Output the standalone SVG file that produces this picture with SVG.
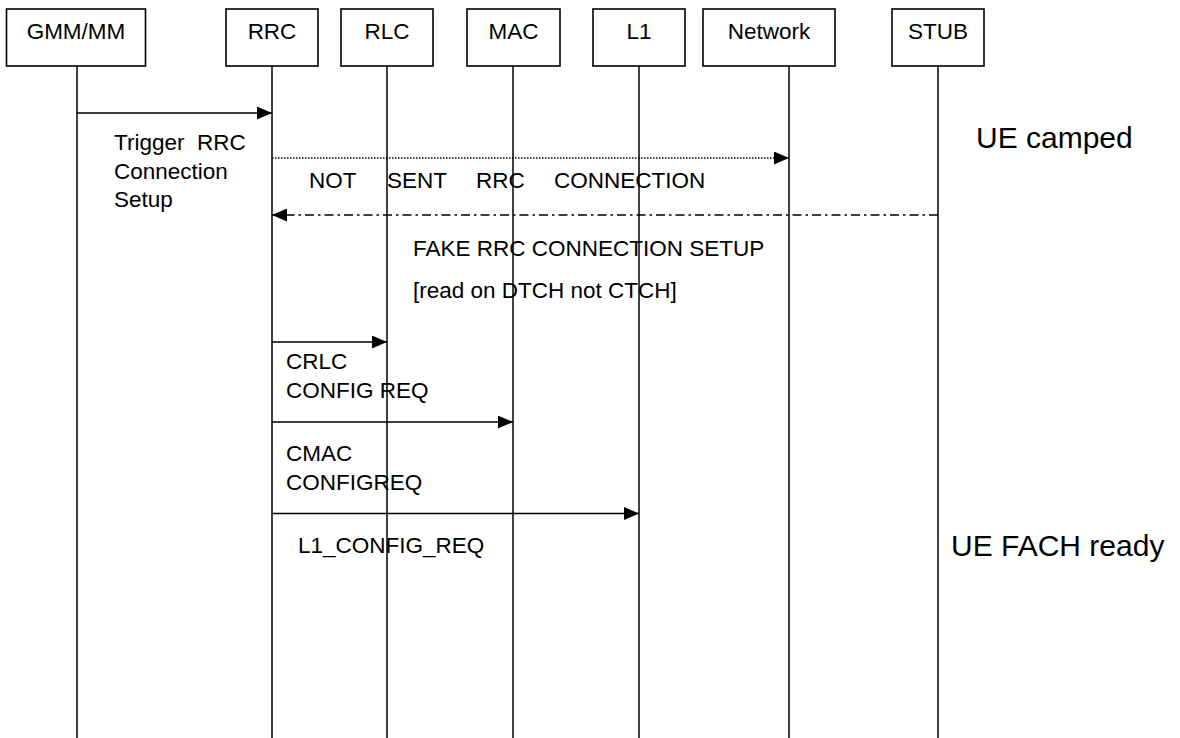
<svg xmlns="http://www.w3.org/2000/svg" width="1180" height="738" viewBox="0 0 1180 738">
  <style>
    .box { fill: #ffffff; stroke: #000000; stroke-width: 1.6; }
    .life { stroke: #000000; stroke-width: 1.5; fill: none; }
    .msg { stroke: #000000; stroke-width: 1.5; fill: none; }
    .dotted { stroke-dasharray: 1.5 1.5; stroke-width: 1.3; }
    .dashdot { stroke-dasharray: 9 4 2.5 4; stroke-width: 1.4; }
    text { font-family: "Liberation Sans", Arial, sans-serif; font-size: 22.5px; fill: #000000; }
    .name { text-anchor: middle; }
    .state { font-size: 30px; }
  </style>
  <defs>
    <marker id="head" markerUnits="userSpaceOnUse" markerWidth="15" markerHeight="13" refX="15" refY="6.5" orient="auto">
      <path d="M0,0 L15,6.5 L0,13 Z" fill="#000000"/>
    </marker>
  </defs>

  <rect width="1180" height="738" fill="#ffffff"/>

  <!-- lifelines with their header boxes -->
  <g id="gmm">
    <line class="life" x1="77" y1="66" x2="77" y2="738"/>
    <rect class="box" x="6.5" y="9" width="139" height="57"/>
    <text class="name" x="76" y="38.5">GMM/MM</text>
  </g>
  <g id="rrc">
    <line class="life" x1="272" y1="66" x2="272" y2="738"/>
    <rect class="box" x="226" y="9" width="92" height="57"/>
    <text class="name" x="272" y="38.5">RRC</text>
  </g>
  <g id="rlc">
    <line class="life" x1="387" y1="66" x2="387" y2="738"/>
    <rect class="box" x="341" y="9" width="92" height="57"/>
    <text class="name" x="387" y="38.5">RLC</text>
  </g>
  <g id="mac">
    <line class="life" x1="513" y1="66" x2="513" y2="738"/>
    <rect class="box" x="467" y="9" width="93" height="57"/>
    <text class="name" x="513.5" y="38.5">MAC</text>
  </g>
  <g id="l1">
    <line class="life" x1="639" y1="66" x2="639" y2="738"/>
    <rect class="box" x="593" y="9" width="92" height="57"/>
    <text class="name" x="639" y="38.5">L1</text>
  </g>
  <g id="network">
    <line class="life" x1="789" y1="66" x2="789" y2="738"/>
    <rect class="box" x="703" y="9" width="132" height="57"/>
    <text class="name" x="769" y="38.5">Network</text>
  </g>
  <g id="stub">
    <line class="life" x1="938" y1="66" x2="938" y2="738"/>
    <rect class="box" x="892" y="9" width="92" height="57"/>
    <text class="name" x="938" y="38.5">STUB</text>
  </g>

  <!-- messages -->
  <g id="connectors">
    <line class="msg" x1="77" y1="113" x2="272" y2="113" marker-end="url(#head)"/>
    <line class="msg dotted" x1="272" y1="158" x2="789" y2="158" marker-end="url(#head)"/>
    <line class="msg dashdot" x1="938" y1="215" x2="272" y2="215" marker-end="url(#head)"/>
    <line class="msg" x1="272" y1="342" x2="387" y2="342" marker-end="url(#head)"/>
    <line class="msg" x1="272" y1="422" x2="513" y2="422" marker-end="url(#head)"/>
    <line class="msg" x1="272" y1="513.5" x2="639" y2="513.5" marker-end="url(#head)"/>
  </g>

  <!-- message labels -->
  <g id="labels">
    <text x="114" y="150" xml:space="preserve">Trigger  RRC</text>
    <text x="114" y="178.5">Connection</text>
    <text x="114" y="207">Setup</text>

    <text x="309" y="188">NOT</text>
    <text x="387" y="188">SENT</text>
    <text x="476" y="188">RRC</text>
    <text x="554" y="188">CONNECTION</text>

    <text x="413" y="256">FAKE RRC CONNECTION SETUP</text>
    <text x="413" y="298">[read on DTCH not CTCH]</text>

    <text x="286" y="369">CRLC</text>
    <text x="286" y="397.5">CONFIG REQ</text>

    <text x="286" y="461">CMAC</text>
    <text x="286" y="490">CONFIGREQ</text>

    <text x="298" y="553">L1_CONFIG_REQ</text>
  </g>

  <!-- UE states -->
  <g id="states">
    <text class="state" x="976" y="148">UE camped</text>
    <text class="state" x="951" y="556">UE FACH ready</text>
  </g>
</svg>
